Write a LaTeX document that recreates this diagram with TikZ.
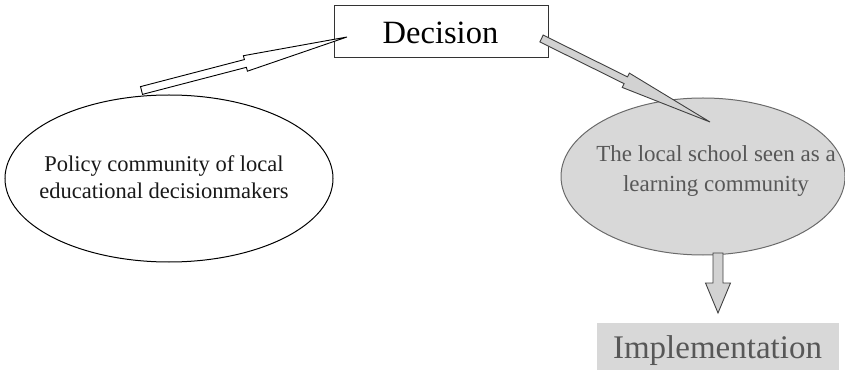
\documentclass[tikz,border=0pt]{standalone}
\usepackage{fontspec}
\setmainfont{Liberation Serif}
\usetikzlibrary{calc,shapes.geometric}

\definecolor{panelgray}{HTML}{D8D8D8}
\definecolor{edgegray}{HTML}{6A6A6A}
\definecolor{inkgray}{HTML}{575757}
\definecolor{arrowgray}{HTML}{D2D2D2}

% Block arrow from #2 (tail) to #3 (tip):
% #4 shaft half-width, #5 head length, #6 head half-width
\newcommand\blockarrow[6]{%
  \path (#2) coordinate (ba-t) (#3) coordinate (ba-h);
  \path ($(ba-h)!#5!(ba-t)$) coordinate (ba-b);
  \draw[#1]
    ($(ba-t)!#4!90:(ba-h)$) -- ($(ba-b)!#4!90:(ba-h)$) --
    ($(ba-b)!#6!90:(ba-h)$) -- (ba-h) --
    ($(ba-b)!#6!-90:(ba-h)$) -- ($(ba-b)!#4!-90:(ba-h)$) --
    ($(ba-t)!#4!-90:(ba-h)$) -- cycle;
}

\tikzset{
  titlebox/.style={draw=black!80, line width=1pt, fill=white,
    minimum width=214pt, minimum height=52pt, inner sep=0pt},
  bubble/.style={ellipse, draw, line width=1pt, inner sep=0pt},
  labeltext/.style={align=center, inner sep=0pt},
  hollowarrow/.style={draw=black, line width=0.9pt, fill=white, line join=miter},
  greyarrow/.style={draw=black!75, line width=0.9pt, fill=arrowgray, line join=miter},
}

\begin{document}
\begin{tikzpicture}[x=1pt, y=-1pt]
\useasboundingbox (0,0) rectangle (845,371);

% Main shapes
\node[titlebox] (decision) at (441,32) {};
\node[anchor=base, inner sep=0pt, font=\fontsize{32.5}{36}\selectfont] (decisiontext)
  at (440.5,43.3) {Decision};

\node[bubble, fill=white, minimum width=328pt, minimum height=167pt] (policy) at (169,178.5) {};
\node[labeltext, font=\fontsize{22.5}{26.5}\selectfont, text=black!90] (policytext)
  at (164,177.3) {Policy community of local\\educational decisionmakers};

\node[bubble, draw=edgegray, fill=panelgray, minimum width=284pt, minimum height=157pt] (school)
  at (703,176.5) {};
\node[labeltext, font=\fontsize{23}{30}\selectfont, text=inkgray] (schooltext)
  at (716,171.3) {The local school seen as a\\learning community};

\node[fill=panelgray, minimum width=242pt, minimum height=47pt, inner sep=0pt] (impl)
  at (718,346.5) {};
\node[anchor=base, inner sep=0pt, font=\fontsize{33}{36}\selectfont, text=inkgray] (impltext)
  at (717.5,358) {Implementation};

% Arrow end points
\coordinate (policyout) at (141.5,90.5);
\coordinate (decisionin) at (347,37);
\coordinate (decisionout) at (541.5,38.5);
\coordinate (schoolin) at (710,122);
\coordinate (schoolout) at (718,253);
\coordinate (implin) at (718,313);

% Connectors
\blockarrow{hollowarrow}{policyout}{decisionin}{4pt}{105pt}{8pt}
\blockarrow{greyarrow}{decisionout}{schoolin}{3.8pt}{94pt}{8pt}
\blockarrow{greyarrow}{schoolout}{implin}{5pt}{30pt}{12.5pt}
\end{tikzpicture}
\end{document}
